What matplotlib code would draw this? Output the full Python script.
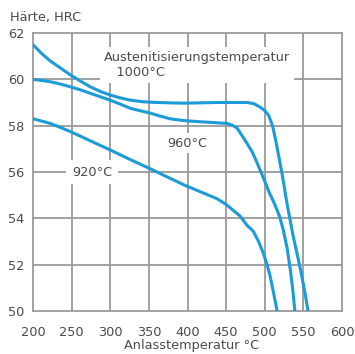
import matplotlib
matplotlib.use("Agg")
import matplotlib.pyplot as plt

# Hardness vs. tempering temperature for three austenitising temperatures
temp_1000 = [200, 210, 222, 235, 248, 261, 274, 287, 300, 313, 326, 343, 360, 395, 438, 477,
             486, 494, 500, 505, 510, 514, 518, 522, 529, 537, 543, 548, 552, 556]
hrc_1000 = [61.5, 61.15, 60.8, 60.5, 60.2, 59.93, 59.68, 59.48, 59.32, 59.2, 59.1, 59.03, 59.0, 58.97, 59.0, 59.0,
            58.95, 58.8, 58.65, 58.45, 58.0, 57.4, 56.7, 56.0, 54.6, 53.2, 52.3, 51.5, 50.8, 50.0]

temp_960 = [200, 222, 235, 248, 261, 274, 287, 300, 313, 326, 338, 351, 364, 377, 395, 416, 440, 451,
            458, 464, 470, 477, 484, 490, 495, 500, 506, 513, 519, 524, 529, 533, 536, 539]
hrc_960 = [60.0, 59.9, 59.8, 59.68, 59.55, 59.4, 59.25, 59.1, 58.93, 58.75, 58.65, 58.55, 58.42, 58.3, 58.22, 58.17, 58.12, 58.1,
           58.02, 57.9, 57.6, 57.24, 56.85, 56.4, 56.0, 55.6, 55.1, 54.6, 54.1, 53.5, 52.7, 51.8, 51.0, 50.0]

temp_920 = [200, 211, 222, 235, 248, 261, 274, 287, 300, 325, 351, 373, 395, 420, 438, 450, 459, 468,
            477, 485, 492, 498, 503, 507, 511, 516]
hrc_920 = [58.3, 58.2, 58.1, 57.93, 57.75, 57.55, 57.35, 57.15, 56.95, 56.55, 56.15, 55.8, 55.45, 55.1, 54.85, 54.6, 54.35, 54.1,
           53.7, 53.45, 53.0, 52.5, 52.0, 51.5, 50.85, 50.0]

x_ticks = [200, 250, 300, 350, 400, 450, 500, 550, 600]
y_ticks = [50, 52, 54, 56, 58, 60, 62]

LINE = "#1b9bd7"
GRID = "#9a9a9a"
TEXT = "#4a4a4a"
FS = 9.3

plt.rcParams["font.family"] = ["DejaVu Sans"]

fig = plt.figure(figsize=(3.55, 3.54), dpi=100)
ax = fig.add_axes([33 / 355, 1 - 311 / 354, 309 / 355, 278 / 354])
ax.set_xlim(200, 600)
ax.set_ylim(50, 62)

ax.set_xticks(x_ticks)
ax.set_yticks(y_ticks)

# grid lines between the axis limits
for xv in x_ticks[1:-1]:
    ax.plot([xv, xv], [y_ticks[0], y_ticks[-1]], color=GRID, lw=1.3, zorder=2)
for yv in y_ticks[1:-1]:
    ax.plot([x_ticks[0], x_ticks[-1]], [yv, yv], color=GRID, lw=1.3, zorder=2)
for s in ax.spines.values():
    s.set_color(GRID)
    s.set_linewidth(1.3)

ax.tick_params(length=0, labelsize=FS, colors=TEXT)
ax.tick_params(axis="x", pad=11)
ax.tick_params(axis="y", pad=6)

for t, h in [(temp_1000, hrc_1000), (temp_960, hrc_960), (temp_920, hrc_920)]:
    ax.plot(t, h, color=LINE, lw=2.2, solid_joinstyle="round", solid_capstyle="butt", zorder=4)

box = dict(facecolor="white", edgecolor="none", boxstyle="square,pad=0.3")
ax.text(292, 60.62, "Austenitisierungstemperatur\n   1000°C", ha="left", va="center",
        fontsize=FS, color=TEXT, linespacing=1.15, bbox=box, zorder=3)
ax.text(373.5, 57.25, "960°C", ha="left", va="center", fontsize=FS, color=TEXT,
        bbox=box, zorder=3)
ax.text(250.5, 56.0, "920°C", ha="left", va="center", fontsize=FS, color=TEXT,
        bbox=dict(facecolor="white", edgecolor="none", boxstyle="square,pad=0.45"), zorder=3)

fig.text(10 / 355, 1 - 18 / 354, "Härte, HRC", ha="left", va="center", fontsize=FS, color=TEXT)
fig.text(191.5 / 355, 1 - 345 / 354, "Anlasstemperatur °C", ha="center", va="center",
         fontsize=FS, color=TEXT)

fig.savefig("out.png", dpi=100, facecolor="white")
